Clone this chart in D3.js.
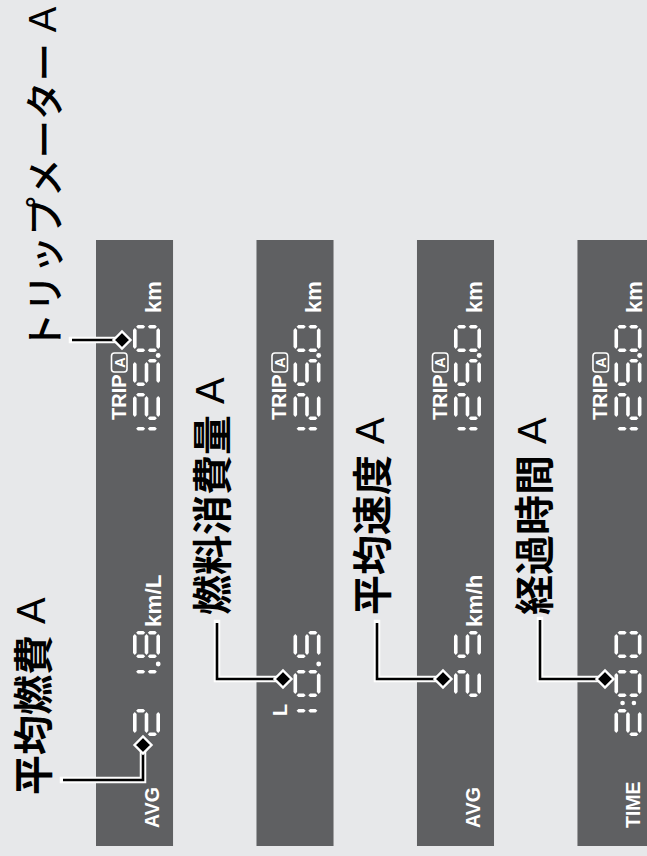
<!DOCTYPE html>
<html><head><meta charset="utf-8">
<script src="https://cdn.jsdelivr.net/npm/d3@7"></script>
<style>html,body{margin:0;padding:0;background:#e7e8ea;}svg{display:block}</style>
</head><body>
<script>
// ---- data ----
const panelIds = [0, 1, 2, 3];
const titles = ["平均燃費", "燃料消費量", "平均速度", "経過時間"];
const titleSuffix = "A";
const tripTitle = "トリップメーター";
const mainLabels = ["AVG", "L", "AVG", "TIME"];
const mainValues = ["21.8", "10.5", "25", "2:00"];
const mainUnits = ["km/L", "", "km/h", ""];
const tripLabel = "TRIP";
const tripValue = "125.0";
const tripUnit = "km";

const W = 647, H = 856;
const BG = "#e7e8ea", PANEL = "#5f6062";
const svg = d3.select("body").append("svg").attr("width", W).attr("height", H);
svg.append("rect").attr("width", W).attr("height", H).attr("fill", BG);
// unrotated frame: u along the panel length, v across
const g = svg.append("g").attr("transform", `translate(0,${H}) rotate(-90)`);

const band = d3.scaleBand().domain(panelIds).range([96, 654.5]).paddingInner(0.52).paddingOuter(0);
const mainCell = d3.scaleLinear().domain([0, 1]).range([120, 159]);   // cell index -> u
const tripCell = d3.scaleLinear().domain([0, 1]).range([402, 436]);

const LAT = "'Liberation Sans', Arial, sans-serif";
const CJK = "'Noto Sans CJK JP', 'Noto Sans CJK SC', sans-serif";

// panels
g.selectAll("rect.panel").data(panelIds).join("rect").attr("class", "panel")
  .attr("x", 10).attr("width", 606).attr("y", d => band(d)).attr("height", band.bandwidth())
  .attr("fill", PANEL);

const SEG = {"0":"abcdef","1":"bc","2":"abged","3":"abgcd","4":"fgbc","5":"afgcd","6":"afgedc","7":"abc","8":"abcdefg","9":"abcdfg"};
function drawDigit(sel, ch, x0, y0, w, h) {
  const t = 3.6, ht = t / 2, gp = 1.3;
  const xl = x0 + ht, xr = x0 + w - ht, yt = y0 + ht, ym = y0 + h / 2, yb = y0 + h - ht;
  const hs = (xa, xb, y) => [[xa+gp,y],[xa+gp+ht,y-ht],[xb-gp-ht,y-ht],[xb-gp,y],[xb-gp-ht,y+ht],[xa+gp+ht,y+ht]];
  const vs = (x, ya, yb2) => [[x,ya+gp],[x+ht,ya+gp+ht],[x+ht,yb2-gp-ht],[x,yb2-gp],[x-ht,yb2-gp-ht],[x-ht,ya+gp+ht]];
  const segs = {a:hs(xl,xr,yt), b:vs(xr,yt,ym), c:vs(xr,ym,yb), d:hs(xl,xr,yb), e:vs(xl,ym,yb), f:vs(xl,yt,ym), g:hs(xl,xr,ym)};
  const list = (SEG[ch] || "").split("").map(k => segs[k]);
  sel.append("g").selectAll("polygon").data(list).join("polygon")
    .attr("points", d => d.map(p => p.join(",")).join(" ")).attr("fill", "#fff");
}
// lay out a value string right-aligned into cells
function drawValue(sel, str, cellScale, nCells, y0, w, h) {
  const chars = str.split("");
  const digits = chars.filter(c => /\d/.test(c));
  let idx = nCells - digits.length - 1;
  const step = cellScale(1) - cellScale(0);
  chars.forEach(c => {
    if (/\d/.test(c)) { idx++; drawDigit(sel, c, cellScale(idx), y0, w, h); }
    else if (c === ".") {
      sel.append("circle").attr("cx", cellScale(idx) + w + (step - w) / 2).attr("cy", y0 + h - 1.8).attr("r", 2.4).attr("fill", "#fff");
    } else if (c === ":") {
      const cx = cellScale(idx) + w + (step - w) / 2;
      [h * 0.3, h * 0.72].forEach(dy => sel.append("circle").attr("cx", cx).attr("cy", y0 + dy).attr("r", 2.3).attr("fill", "#fff"));
    }
  });
}

panelIds.forEach(i => {
  const top = band(i);
  const p = g.append("g");
  const dy0 = top + 37, DW = 27, DH = 27;
  if (mainLabels[i] === "L") {
    p.append("text").attr("x", 140).attr("y", top + 31).text("L")
      .attr("font-family", LAT).attr("font-weight", 700).attr("font-size", 20).attr("fill", "#fff");
  } else {
    p.append("text").attr("x", 28).attr("y", top + 63).text(mainLabels[i])
      .attr("font-family", LAT).attr("font-weight", 700).attr("font-size", 19.5).attr("fill", "#fff");
  }
  drawValue(p, mainValues[i], mainCell, 3, dy0, DW, DH);
  if (mainUnits[i]) {
    p.append("text").attr("x", 229).attr("y", top + 65).text(mainUnits[i])
      .attr("font-family", LAT).attr("font-weight", 700).attr("font-size", 22.5).attr("fill", "#fff");
  }
  // trip block
  p.append("text").attr("x", 436).attr("y", top + 30).text(tripLabel)
    .attr("font-family", LAT).attr("font-weight", 700).attr("font-size", 20).attr("fill", "#fff");
  p.append("rect").attr("x", 484).attr("y", top + 15.5).attr("width", 19).attr("height", 15.5).attr("rx", 3)
    .attr("fill", "none").attr("stroke", "#fff").attr("stroke-width", 1.6);
  p.append("text").attr("x", 493.5).attr("y", top + 28.5).attr("text-anchor", "middle").text("A")
    .attr("font-family", LAT).attr("font-weight", 700).attr("font-size", 14.5).attr("fill", "#fff");
  drawValue(p, tripValue, tripCell, 4, dy0, DW, DH);
  p.append("text").attr("x", 543).attr("y", top + 65).text(tripUnit)
    .attr("font-family", LAT).attr("font-weight", 700).attr("font-size", 22).attr("fill", "#fff");
});

// titles
const titlePos = [[61, 31], [241, 210], [241, 370], [241, 532]];
function title(x, y, main, size, weight) {
  const t = g.append("text").attr("x", x).attr("y", y).attr("dominant-baseline", "central")
    .attr("font-family", CJK).attr("font-size", size).attr("fill", "#000");
  t.append("tspan").attr("font-weight", weight).text(main);
  t.append("tspan").attr("font-family", LAT).attr("font-weight", 400).text(" " + titleSuffix);
}
titles.forEach((t, i) => title(titlePos[i][0], titlePos[i][1], t, 40, 700));
title(505, 41.5, tripTitle, 38.5, 500);

// leader lines
const leaders = [
  [[516, 72], [516, 122]],
  [[76, 63], [76, 143], [111, 143]],
  [[233, 217], [177, 217], [177, 283]],
  [[233, 377], [177, 377], [177, 443]],
  [[236, 540], [177, 540], [177, 605]]
];
const line = d3.line();
leaders.forEach(pts => {
  g.append("path").attr("d", line(pts)).attr("fill", "none").attr("stroke", "#fff").attr("stroke-width", 6.5)
    .attr("stroke-linecap", "square").attr("stroke-linejoin", "miter");
  g.append("path").attr("d", line(pts)).attr("fill", "none").attr("stroke", "#000").attr("stroke-width", 2.6)
    .attr("stroke-linejoin", "miter");
  const [u, v] = pts[pts.length - 1];
  const r = 8.5;
  g.append("polygon").attr("points", [[u, v - r], [u + r, v], [u, v + r], [u - r, v]].map(p => p.join(",")).join(" "))
    .attr("fill", "#000").attr("stroke", "#fff").attr("stroke-width", 2.4).attr("stroke-linejoin", "miter");
});
</script>
</body></html>
